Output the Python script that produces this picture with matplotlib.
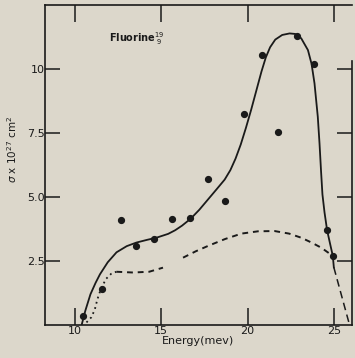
import matplotlib
matplotlib.use("Agg")
import matplotlib.pyplot as plt

# measured points
energy = [10.48, 11.54, 12.64, 13.56, 14.58, 15.62, 16.69, 17.70, 18.67, 19.77,
          20.83, 21.75, 22.87, 23.83, 24.60, 24.93]
sigma = [0.36, 1.40, 4.11, 3.09, 3.37, 4.16, 4.19, 5.72, 4.84, 8.25,
         10.54, 7.52, 11.28, 10.19, 3.71, 2.70]

# solid fitted curve
fit_x = [10.39, 10.6, 10.9, 11.2, 11.45, 11.9, 12.41, 13.0, 13.56, 14.2, 14.72,
         15.4, 15.8, 16.2, 16.7, 17.2, 17.7, 18.2, 18.67, 19.0, 19.3, 19.6, 19.9,
         20.2, 20.5, 20.8, 21.05, 21.3, 21.6, 22.0, 22.43, 22.75, 23.1, 23.49, 23.7,
         23.87, 24.06, 24.16, 24.25, 24.33, 24.45, 24.6, 24.78, 24.93, 24.99]
fit_y = [0.0, 0.55, 1.2, 1.65, 1.98, 2.45, 2.84, 3.08, 3.22, 3.33, 3.41,
         3.56, 3.7, 3.88, 4.15, 4.5, 4.9, 5.3, 5.68, 6.05, 6.5, 7.05, 7.7,
         8.4, 9.15, 9.9, 10.45, 10.85, 11.15, 11.33, 11.39, 11.37, 11.2, 10.74, 10.2,
         9.44, 8.14, 7.1, 6.0, 5.1, 4.4, 3.70, 3.15, 2.70, 2.25]
tail_x = [24.99, 25.9]
tail_y = [2.25, 0.0]

# lower dotted / dashed curve
low1_x = [10.67, 10.95, 11.15, 11.3, 11.5, 11.8, 12.1, 12.4]
low1_y = [0.1, 0.3, 0.6, 1.0, 1.4, 1.8, 2.0, 2.08]
low2_x = [12.4, 13.37, 14.3, 15.1]
low2_y = [2.08, 2.05, 2.08, 2.24]
low3_x = [16.26, 17.0, 17.71, 18.7, 19.64, 20.6, 21.56, 22.4, 23.1, 23.7, 24.26, 24.93]
low3_y = [2.63, 2.88, 3.09, 3.36, 3.57, 3.66, 3.67, 3.57, 3.41, 3.22, 3.02, 2.70]

xticks = [10, 15, 20, 25]
xticklabels = ["10", "15", "20", "25"]
yticks = [2.5, 5.0, 7.5, 10]
yticklabels = ["2.5", "5.0", "7.5", "10"]

bg = "#dcd7cb"
ink = "#1a1a1a"

fig = plt.figure(figsize=(3.55, 3.58), dpi=100, facecolor=bg)
ax = fig.add_axes([0.1268, 0.0922, 0.8647, 0.8938], facecolor=bg)

ax.plot(fit_x, fit_y, color=ink, lw=1.3)
ax.plot(tail_x, tail_y, color=ink, lw=1.1, dashes=(5, 3))
ax.plot(low1_x, low1_y, color=ink, lw=1.3, dashes=(1, 2))
ax.plot(low2_x, low2_y, color=ink, lw=1.4, dashes=(3, 2.5))
ax.plot(low3_x, low3_y, color=ink, lw=1.4, dashes=(3, 2.5))
ax.plot(energy, sigma, 'o', color=ink, ms=4.2, mec=ink)

ax.set_xlim(8.27, 26.04)
ax.set_ylim(0, 12.5)

ax.set_xticks(xticks)
ax.set_xticklabels(xticklabels)
ax.set_yticks(yticks)
ax.set_yticklabels(yticklabels)
ax.tick_params(axis='x', direction='in', length=12, width=1.1, pad=1,
               labelsize=8, colors=ink, top=True)
ax.tick_params(axis='y', direction='in', length=11, width=1.1, pad=0,
               labelsize=8, colors=ink, right=True)
for s in ax.spines.values():
    s.set_color(ink)
    s.set_linewidth(1.2)
ax.spines['right'].set_bounds(0, 10.3)

ax.set_xlabel("Energy(mev)", fontsize=8, color=ink, labelpad=0)
ax.set_ylabel(r"$\sigma$ x 10$^{27}$ cm$^{2}$", fontsize=7.5, color=ink, labelpad=2)
ax.yaxis.set_label_coords(-0.085, 0.55)

ax.text(0.30, 0.895, r"Fluorine$^{19}_{\;9}$", transform=ax.transAxes,
        fontsize=7, color=ink, ha='center', va='center', fontweight='bold')

fig.savefig("out.png", dpi=100, facecolor=bg)
